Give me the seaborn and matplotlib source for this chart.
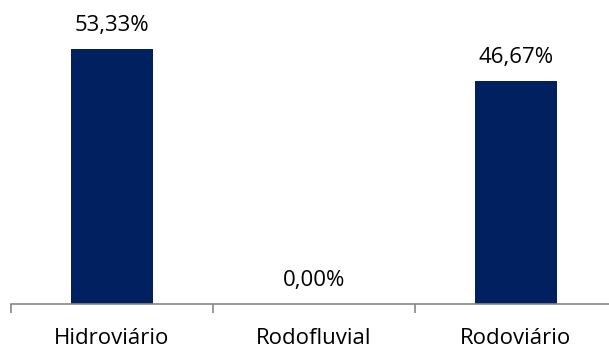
import matplotlib
matplotlib.use("Agg")
import matplotlib.pyplot as plt
import seaborn as sns
import pandas as pd

categories = ["Hidroviário", "Rodofluvial", "Rodoviário"]
values = [53.33, 0.00, 46.67]
labels = ["53,33%", "0,00%", "46,67%"]

sns.set_theme(style="white")
plt.rcParams['font.family'] = ['Open Sans', 'DejaVu Sans']

df = pd.DataFrame({"cat": categories, "val": values})

fig = plt.figure(figsize=(6.09, 3.5), dpi=100)
base = 350 - 304.3
ax = fig.add_axes([10.9/609, base/350, 606/609, 1 - base/350])
sns.barplot(data=df, x="cat", y="val", color="#002060", width=0.407, ax=ax,
            saturation=1, linewidth=0)
ax.set_xlim(-0.5, 2.5)
ax.set_ylim(0, 63.6)
for i, (v, t) in enumerate(zip(values, labels)):
    ax.annotate(t, (i, v), xytext=(0, 13), textcoords="offset points",
                ha="center", va="baseline", fontsize=16, color="black")
ax.set_xlabel("")
ax.set_ylabel("")
ax.set_yticks([])
for s in ["top", "right", "left"]:
    ax.spines[s].set_visible(False)
ax.spines["bottom"].set_color("#868686")
ax.spines["bottom"].set_linewidth(1.2)
ax.set_xticks([0, 1, 2])
ax.set_xticklabels(categories, fontsize=16, color="black")
ax.tick_params(axis="x", which="major", length=0, pad=17)
ax.set_xticks([-0.5, 0.5, 1.5, 2.5], minor=True)
ax.tick_params(axis="x", which="minor", length=6.5, width=1.2, color="#868686", bottom=True)
fig.savefig("out.png", dpi=100)
